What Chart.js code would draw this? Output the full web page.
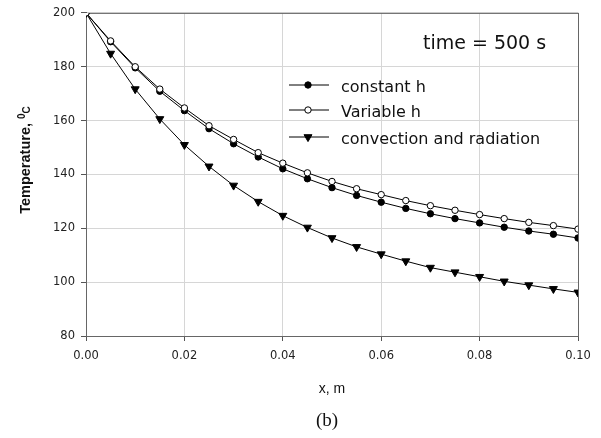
<!DOCTYPE html>
<html>
<head>
<meta charset="utf-8">
<script src="https://cdn.jsdelivr.net/npm/chart.js@4"></script>
<style>
  body { margin: 0; background: #fff; }
  #wrap { width: 601px; height: 438px; }
</style>
</head>
<body>
<div id="wrap"><canvas id="tempChart" width="601" height="438"></canvas></div>
<script>
// Values (x in m, temperature in deg C)
const xValues = [0, 0.005, 0.01, 0.015, 0.02, 0.025, 0.03, 0.035, 0.04, 0.045, 0.05,
                 0.055, 0.06, 0.065, 0.07, 0.075, 0.08, 0.085, 0.09, 0.095, 0.1];
const constantH = [200, 189.3, 179.6, 170.9, 163.7, 157.0, 151.4, 146.5, 142.1, 138.4, 135.1,
                   132.2, 129.7, 127.4, 125.4, 123.6, 122.0, 120.4, 119.0, 117.8, 116.4];
const variableH = [200, 189.6, 180.0, 171.7, 164.7, 158.1, 153.0, 148.1, 144.2, 140.6, 137.4,
                   134.7, 132.5, 130.3, 128.4, 126.7, 125.1, 123.6, 122.2, 121.0, 119.7];
const convRad = [200, 184.9, 171.7, 160.6, 151.0, 143.0, 135.9, 129.9, 124.7, 120.3, 116.4,
                 113.1, 110.4, 107.8, 105.4, 103.7, 102.0, 100.3, 98.9, 97.5, 96.2];
const seriesNames = ['constant h', 'Variable h', 'convection and radiation'];
const xAxisRange = [0, 0.1, 0.02];
const yAxisRange = [80, 200, 20];

const toPoints = arr => arr.map((v, i) => ({ x: xValues[i], y: v }));

// legend, annotation text, frame and axis titles
const extras = {
  id: 'extras',
  beforeDatasetsDraw(chart) {
    const { ctx, chartArea: a } = chart;
    ctx.save();
    ctx.strokeStyle = '#666';
    ctx.lineWidth = 1;
    ctx.strokeRect(a.left + 0.5, a.top + 0.5, a.right - a.left, a.bottom - a.top);
    ctx.restore();
  },
  afterDraw(chart) {
    const { ctx, chartArea: a } = chart;
    ctx.save();
    ctx.fillStyle = '#111';

    // time label
    ctx.font = "19px 'DejaVu Sans'";
    ctx.textAlign = 'left';
    ctx.textBaseline = 'alphabetic';
    ctx.fillText('time = 500 s', 423, 48.5);

    // legend
    const rows = [85, 110, 137];
    chart.data.datasets.forEach((ds, i) => {
      const y = rows[i];
      ctx.strokeStyle = '#000';
      ctx.lineWidth = 1;
      ctx.beginPath();
      ctx.moveTo(289, y);
      ctx.lineTo(329, y);
      ctx.stroke();
      ctx.fillStyle = ds.pointBackgroundColor;
      ctx.beginPath();
      if (ds.pointStyle === 'triangle') {
        const r = ds.pointRadius;
        ctx.moveTo(308 - r * 0.866, y - r * 0.5);
        ctx.lineTo(308 + r * 0.866, y - r * 0.5);
        ctx.lineTo(308, y + r);
        ctx.closePath();
      } else {
        ctx.arc(308, y, ds.pointRadius, 0, Math.PI * 2);
      }
      ctx.fill();
      ctx.stroke();
      ctx.fillStyle = '#111';
      ctx.font = "16px 'DejaVu Sans'";
      ctx.fillText(seriesNames[i], 341, y + 7);
    });

    // x axis title
    ctx.font = "14px 'Liberation Sans', Arial";
    ctx.textAlign = 'center';
    ctx.fillText('x, m', (a.left + a.right) / 2, 393);

    // (b)
    ctx.font = "19px 'Liberation Serif', serif";
    ctx.fillText('(b)', 327, 426);

    // y axis title, rotated
    ctx.translate(30, 160);
    ctx.rotate(-Math.PI / 2);
    ctx.textAlign = 'left';
    ctx.font = "bold 14.5px 'Liberation Sans', Arial";
    const main = 'Temperature, ';
    const w = ctx.measureText(main).width;
    ctx.font = "bold 10px 'Liberation Sans', Arial";
    const w0 = ctx.measureText('0').width;
    const wc = ctx.measureText('C').width;
    const start = -(w + w0 + wc) / 2;
    ctx.font = "bold 14.5px 'Liberation Sans', Arial";
    ctx.fillText(main, start, 0);
    ctx.font = "bold 10px 'Liberation Sans', Arial";
    ctx.fillText('0', start + w, -5);
    ctx.fillText('C', start + w + w0, 0);
    ctx.restore();
  }
};

new Chart(document.getElementById('tempChart'), {
  type: 'line',
  data: {
    datasets: [
      {
        label: seriesNames[0], data: toPoints(constantH),
        borderColor: '#000', borderWidth: 1,
        pointStyle: 'circle', pointRadius: 3.2,
        pointBackgroundColor: '#000', pointBorderColor: '#000', pointBorderWidth: 1,
        order: 1
      },
      {
        label: seriesNames[1], data: toPoints(variableH),
        borderColor: '#000', borderWidth: 1,
        pointStyle: 'circle', pointRadius: 3.2,
        pointBackgroundColor: '#fff', pointBorderColor: '#000', pointBorderWidth: 1,
        order: 0
      },
      {
        label: seriesNames[2], data: toPoints(convRad),
        borderColor: '#000', borderWidth: 1,
        pointStyle: 'triangle', pointRadius: 4.6, pointRotation: 180,
        pointBackgroundColor: '#000', pointBorderColor: '#000', pointBorderWidth: 1,
        order: 2
      }
    ]
  },
  options: {
    responsive: false,
    animation: false,
    layout: { padding: { top: 12, right: 23, left: 0, bottom: 0 } },
    plugins: {
      legend: { display: false },
      tooltip: { enabled: false }
    },
    scales: {
      x: {
        type: 'linear',
        min: xAxisRange[0], max: xAxisRange[1],
        afterFit: s => { s.height = 102; },
        ticks: {
          stepSize: xAxisRange[2],
          callback: v => v.toFixed(2),
          color: '#222',
          font: { family: 'DejaVu Sans', size: 11.5 },
          padding: 8,
          maxRotation: 0
        },
        grid: { color: '#d6d6d6', tickColor: '#555', tickLength: 5 },
        border: { color: '#555', width: 1 }
      },
      y: {
        min: yAxisRange[0], max: yAxisRange[1],
        afterFit: s => { s.width = 86; },
        ticks: {
          stepSize: yAxisRange[2],
          color: '#222',
          font: { family: 'DejaVu Sans', size: 11.5 },
          padding: 6
        },
        grid: { color: '#d6d6d6', tickColor: '#555', tickLength: 5 },
        border: { color: '#555', width: 1 }
      }
    }
  },
  plugins: [extras]
});
</script>
</body>
</html>
